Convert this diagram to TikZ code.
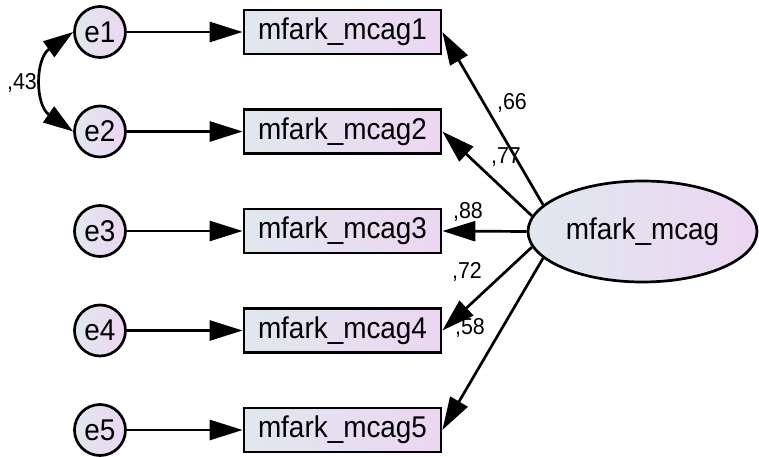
\documentclass[tikz,border=0pt]{standalone}
\usepackage{fontspec}
\setmainfont{Liberation Sans}
\newfontfamily\lblfont[FakeStretch=0.93]{Liberation Sans}
\usetikzlibrary{arrows.meta,shapes.geometric}
\definecolor{gl}{RGB}{224,232,238}
\definecolor{gr}{RGB}{236,214,242}
\tikzset{
  obs/.style={draw, line width=2.7pt, minimum width=197pt, minimum height=44pt,
    inner sep=0pt, left color=gl, right color=gr, font=\lblfont\fontsize{30}{32}\selectfont},
  err/.style={draw, circle, line width=2.7pt, minimum size=51pt, inner sep=0pt,
    left color=gl, right color=gr, font=\lblfont\fontsize{30}{32}\selectfont},
  lat/.style={draw, ellipse, line width=2.7pt, minimum width=229pt, minimum height=101pt,
    inner sep=0pt, left color=gl, right color=gr, font=\lblfont\fontsize{30}{32}\selectfont},
  regpath/.style={line width=2.7pt, -{Triangle[length=33pt,width=20pt]}},
  covpath/.style={line width=2.7pt, {Triangle[length=30pt,width=19pt]}-{Triangle[length=30pt,width=19pt]}},
  coef/.style={font=\lblfont\fontsize{23}{26}\selectfont, inner sep=0pt}
}
\begin{document}
\begin{tikzpicture}[x=1pt,y=1pt]
\useasboundingbox (0,0) rectangle (759,457);
% error terms
\node[err] (e1) at (100,425) {e1};
\node[err] (e2) at (100,325.5) {e2};
\node[err] (e3) at (100,226) {e3};
\node[err] (e4) at (100,126.5) {e4};
\node[err] (e5) at (100,27) {e5};
% observed
\node[obs] (b1) at (342.5,425) {mfark\_mcag1};
\node[obs] (b2) at (342.5,325.5) {mfark\_mcag2};
\node[obs] (b3) at (342.5,226) {mfark\_mcag3};
\node[obs] (b4) at (342.5,126.5) {mfark\_mcag4};
\node[obs] (b5) at (342.5,27) {mfark\_mcag5};
% latent
\node[lat] (lv) at (642.5,225.5) {mfark\_mcag};
% error paths
\draw[regpath] (e1) -- (b1);
\draw[regpath] (e2) -- (b2);
\draw[regpath] (e3) -- (b3);
\draw[regpath] (e4) -- (b4);
\draw[regpath] (e5) -- (b5);
% loadings
\draw[regpath] (lv.165) -- (b1.east);
\draw[regpath] (lv.172.5) -- (b2.east);
\draw[regpath] (lv.180) -- (b3.east);
\draw[regpath] (lv.188) -- (b4.east);
\draw[regpath] (lv.195.5) -- (b5.east);
% covariance
\draw[covpath] (e1.west) .. controls (35,398) and (35,352) .. (e2.west);
% coefficients
\node[coef] (c43) at (22,374) {,43};
\node[coef] (c66) at (512,354) {,66};
\node[coef] (c77) at (506,300) {,77};
\node[coef] (c88) at (468,245) {,88};
\node[coef] (c72) at (467,185) {,72};
\node[coef] (c58) at (470,129) {,58};
\end{tikzpicture}
\end{document}
